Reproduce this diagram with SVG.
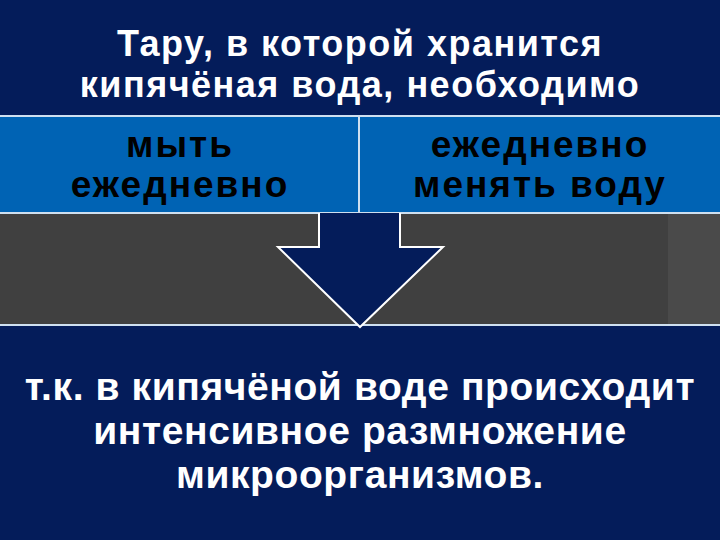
<svg xmlns="http://www.w3.org/2000/svg" width="720" height="540" viewBox="0 0 720 540">
<style>
.t{font-family:"Liberation Sans",Arial,sans-serif;font-weight:bold;text-anchor:middle}
.w{fill:#ffffff}
.h{font-size:36px;letter-spacing:1.5px}
.m{font-size:37px;letter-spacing:2px;fill:#000000}
.f{font-size:39px;letter-spacing:0.6px}
.navy{fill:#041c5a;stroke:#cfe0f0;stroke-width:2}
.blue{fill:#0063b4;stroke:#cfe0f0;stroke-width:2}
</style>
<rect x="0" y="0" width="720" height="540" fill="#404040"/>
<rect x="668" y="213" width="52" height="112" fill="#4a4a4a"/>
<g id="top"><rect class="navy" x="-1" y="-1" width="722" height="117"/>
<text class="t w h" x="360" y="56">Тару, в которой хранится</text>
<text class="t w h" x="360" y="97">кипячёная вода, необходимо</text></g>
<g id="left"><rect class="blue" x="-1" y="116" width="360" height="97"/>
<text class="t m" x="180" y="157">мыть</text>
<text class="t m" x="180" y="197">ежедневно</text></g>
<g id="right"><rect class="blue" x="359" y="116" width="362" height="97"/>
<text class="t m" x="540" y="157">ежедневно</text>
<text class="t m" x="540" y="197">менять воду</text></g>
<g id="bottom"><rect class="navy" x="-1" y="325" width="722" height="216"/>
<text class="t w f" x="360" y="400">т.к. в кипячёной воде происходит</text>
<text class="t w f" x="360" y="444">интенсивное размножение</text>
<text class="t w f" x="360" y="488">микроорганизмов.</text></g>
<g id="connectors"><path d="M319,213 V247 H278 L360,327 L443,247 H400 V213" fill="#041c5a" stroke="#ffffff" stroke-width="2"/></g>
</svg>
